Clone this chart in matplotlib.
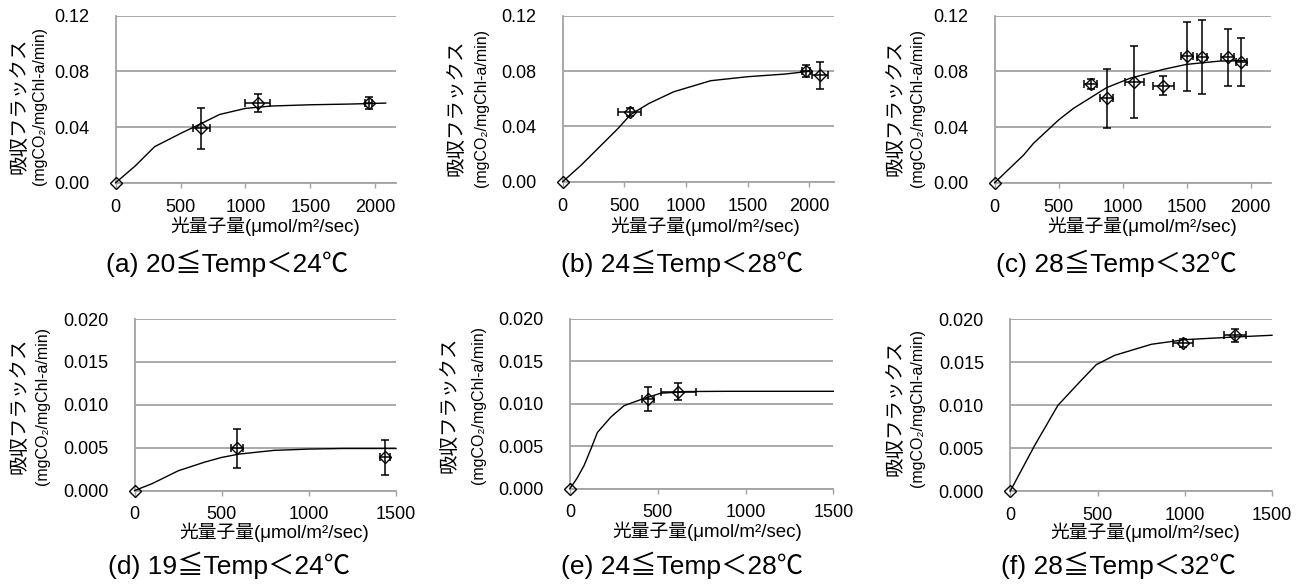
import matplotlib
matplotlib.use('Agg')
import matplotlib.pyplot as plt
import numpy as np
from matplotlib import font_manager
from matplotlib.font_manager import FontProperties


def has_font(name):
    try:
        font_manager.findfont(FontProperties(family=name), fallback_to_default=False)
        return True
    except Exception:
        return False


NARROW = has_font('Liberation Sans Narrow')
LAT = 'Liberation Sans Narrow' if NARROW else 'Liberation Sans'
FAM = [LAT, 'Noto Sans CJK JP', 'DejaVu Sans']
CJKFAM = ['Noto Sans CJK JP', 'DejaVu Sans']
TICK_FS = 14 if NARROW else 13

# ---------------- data ----------------
# (a) 20<=Temp<24
a_x = [0, 661, 1093, 1950]
a_y = [0, 0.0390, 0.0572, 0.0572]
a_xerr = [0, 64, 96, 28]
a_yerr = [0, 0.0146, 0.0067, 0.0046]
a_cx = [0, 150, 300, 500, 650, 800, 1000, 1200, 1500, 1800, 2080]
a_cy = [0, 0.0120, 0.0259, 0.0354, 0.0421, 0.0490, 0.0534, 0.0551, 0.0560, 0.0565, 0.0572]

# (b) 24<=Temp<28
b_x = [0, 542, 1973, 2084]
b_y = [0, 0.0504, 0.0798, 0.0769]
b_xerr = [0, 96, 36, 65]
b_yerr = [0, 0.0031, 0.0044, 0.0099]
b_cx = [0, 150, 300, 450, 550, 700, 900, 1200, 1500, 1800, 2000]
b_cy = [0, 0.0120, 0.0253, 0.0386, 0.0485, 0.0566, 0.0650, 0.0730, 0.0759, 0.0778, 0.0798]

# (c) 28<=Temp<32
c_x = [0, 750, 874, 1089, 1318, 1499, 1619, 1818, 1927]
c_y = [0, 0.0709, 0.0606, 0.0725, 0.0696, 0.0908, 0.0902, 0.0900, 0.0865]
c_xerr = [0, 52, 49, 75, 79, 48, 40, 52, 44]
c_yerr = [0, 0.0038, 0.0214, 0.0260, 0.0069, 0.0249, 0.0264, 0.0204, 0.0173]
c_cx = [0, 226, 303, 498, 615, 874, 1056, 1315, 1497, 1756, 1960]
c_cy = [0, 0.0199, 0.0283, 0.0450, 0.0534, 0.0683, 0.0750, 0.0814, 0.0850, 0.0874, 0.0877]

# (d) 19<=Temp<24
d_x = [0, 587, 1437]
d_y = [0, 0.0049, 0.00386]
d_xerr = [0, 34, 31]
d_yerr = [0, 0.00226, 0.00207]
d_cx = [0, 100, 250, 400, 500, 600, 800, 1000, 1200, 1500]
d_cy = [0, 0.0008, 0.0023, 0.0033, 0.00386, 0.00425, 0.00468, 0.00483, 0.0049, 0.0049]

# (e) 24<=Temp<28
e_x = [0, 446, 617]
e_y = [0, 0.01055, 0.01142]
e_xerr = [0, 33, 100]
e_yerr = [0, 0.0014, 0.0010]
e_cx = [0, 40, 80, 120, 156, 232, 308, 403, 516, 668, 900, 1500]
e_cy = [0, 0.0012, 0.0027, 0.0047, 0.0066, 0.0084, 0.00976, 0.01047, 0.01122, 0.01142, 0.01145, 0.01145]

# (f) 28<=Temp<32
f_x = [0, 990, 1289]
f_y = [0, 0.01724, 0.01814]
f_xerr = [0, 59, 64]
f_yerr = [0, 0.0005, 0.00074]
f_cx = [0, 140, 273, 407, 493, 598, 809, 1000, 1287, 1500]
f_cy = [0, 0.00532, 0.00998, 0.0129, 0.01472, 0.0158, 0.01709, 0.01763, 0.01794, 0.01814]

captions = ['(a) 20≦Temp＜24℃', '(b) 24≦Temp＜28℃', '(c) 28≦Temp＜32℃',
            '(d) 19≦Temp＜24℃', '(e) 24≦Temp＜28℃', '(f) 28≦Temp＜32℃']
ylabel1 = '吸収フラックス'
ylabel2 = '(mgCO₂/mgChl-a/min)'
xlabel = '光量子量(μmol/m²/sec)'

top_yticks = [0.00, 0.04, 0.08, 0.12]
bot_yticks = [0.000, 0.005, 0.010, 0.015, 0.020]
top_xticks = [0, 500, 1000, 1500, 2000]
bot_xticks = [0, 500, 1000, 1500]

# ---------------- layout (pixels) ----------------
W, H = 1302, 584
fig = plt.figure(figsize=(W / 100, H / 100), dpi=100)

GRID = '#a3a3a3'

panels = [
    dict(rect=(115.7, 15.7, 396, 182.7), xmax=2160, ymax=0.12, yt=top_yticks, yfmt='%.2f', xt=top_xticks,
         x=a_x, y=a_y, xe=a_xerr, ye=a_yerr, cx=a_cx, cy=a_cy, yl=(19.5, 40, 106), xl=(265, 226.5), cap=(227, 263)),
    dict(rect=(562.7, 15.7, 834, 181.7), xmax=2200, ymax=0.12, yt=top_yticks, yfmt='%.2f', xt=top_xticks,
         x=b_x, y=b_y, xe=b_xerr, ye=b_yerr, cx=b_cx, cy=b_cy, yl=(456.5, 482, 108), xl=(705, 226.5), cap=(682, 263)),
    dict(rect=(994.7, 15.7, 1271.3, 182.7), xmax=2160, ymax=0.12, yt=top_yticks, yfmt='%.2f', xt=top_xticks,
         x=c_x, y=c_y, xe=c_xerr, ye=c_yerr, cx=c_cx, cy=c_cy, yl=(895.5, 917.5, 108), xl=(1142, 226.5), cap=(1116, 263)),
    dict(rect=(134.7, 319, 396, 490.5), xmax=1500, ymax=0.02, yt=bot_yticks, yfmt='%.3f', xt=bot_xticks,
         x=d_x, y=d_y, xe=d_xerr, ye=d_yerr, cx=d_cx, cy=d_cy, yl=(19.5, 42.5, 406), xl=(274, 532), cap=(229, 565)),
    dict(rect=(570, 318.7, 833.3, 488.5), xmax=1500, ymax=0.02, yt=bot_yticks, yfmt='%.3f', xt=bot_xticks,
         x=e_x, y=e_y, xe=e_xerr, ye=e_yerr, cx=e_cx, cy=e_cy, yl=(449.5, 478.5, 405), xl=(707, 531), cap=(682, 565)),
    dict(rect=(1010.3, 319.3, 1272, 491), xmax=1500, ymax=0.02, yt=bot_yticks, yfmt='%.3f', xt=bot_xticks,
         x=f_x, y=f_y, xe=f_xerr, ye=f_yerr, cx=f_cx, cy=f_cy, yl=(895.5, 917.5, 408), xl=(1145, 532), cap=(1118, 565)),
]


def fx(px):
    return px / W


def fy(py):
    return 1 - py / H


for p, cap in zip(panels, captions):
    l, t, r, b = p['rect']
    ax = fig.add_axes([fx(l), fy(b), (r - l) / W, (b - t) / H])
    ax.set_xlim(0, p['xmax'])
    ax.set_ylim(0, p['ymax'])
    ax.set_yticks(p['yt'])
    ax.set_yticklabels([p['yfmt'] % v for v in p['yt']], fontfamily=FAM, fontsize=TICK_FS)
    ax.set_xticks(p['xt'])
    ax.set_xticklabels([str(v) for v in p['xt']], fontfamily=FAM, fontsize=TICK_FS)
    ax.tick_params(axis='y', length=0, pad=19)
    ax.tick_params(axis='x', length=3.5, width=1, color=GRID, direction='out', pad=8)
    ax.grid(axis='y', color=GRID, lw=1.3)
    ax.set_axisbelow(True)
    for s in ('top', 'right'):
        ax.spines[s].set_visible(False)
    for s in ('left', 'bottom'):
        ax.spines[s].set_color(GRID)
        ax.spines[s].set_linewidth(1.3)

    x = np.array(p['x'], float)
    y = np.array(p['y'], float)
    xe = np.array(p['xe'], float)
    ye = np.array(p['ye'], float)
    m = (xe > 0) | (ye > 0)

    # fitted curve
    ax.plot(p['cx'], p['cy'], color='black', lw=1.0, zorder=3, clip_on=False)
    # markers
    ax.plot(x, y, linestyle='none', marker='D', ms=6, mfc='none', mec='black', mew=1.0,
            zorder=4, clip_on=False)
    # error bars
    eb = ax.errorbar(x[m], y[m], xerr=xe[m], yerr=ye[m], fmt='none', ecolor='black',
                     elinewidth=1.1, capsize=2.6, capthick=1.1, zorder=5)
    for art in list(eb.lines[1]) + list(eb.lines[2]):
        art.set_clip_on(False)

    # labels
    yl1, yl2, yc = p['yl']
    fig.text(fx(yl1), fy(yc), ylabel1, rotation=90, ha='center', va='center',
             fontfamily=CJKFAM, fontsize=14)
    fig.text(fx(yl2), fy(yc), ylabel2, rotation=90, ha='center', va='center',
             fontfamily=FAM, fontsize=11.5 if not NARROW else 13)
    fig.text(fx(p['xl'][0]), fy(p['xl'][1]), xlabel, ha='center', va='center',
             fontfamily=FAM, fontsize=14 if NARROW else 13.5)
    fig.text(fx(p['cap'][0]), fy(p['cap'][1]), cap, ha='center', va='center',
             fontfamily=FAM, fontsize=20 if NARROW else 19)

fig.savefig('out.png', dpi=100)
